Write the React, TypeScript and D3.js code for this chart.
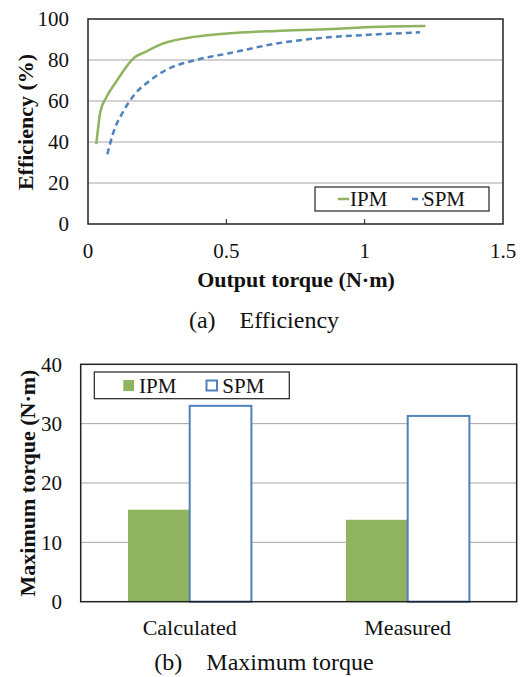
import React from "react";
import * as d3 from "d3";

const ipmTorque = [0.03, 0.045, 0.065, 0.1, 0.17, 0.2, 0.27, 0.39, 0.51, 0.68, 0.88, 1.0, 1.22];
const ipmEff = [39, 55, 61.5, 69, 81.5, 83.5, 88, 91.4, 93, 94.2, 95.1, 96, 96.6];
const spmTorque = [0.07, 0.09, 0.13, 0.17, 0.21, 0.28, 0.39, 0.51, 0.68, 0.88, 1.0, 1.2];
const spmEff = [34, 44, 55.5, 63.5, 68.5, 75, 80, 83.3, 88, 91.2, 92.2, 93.5];
const effTicks = [0, 20, 40, 60, 80, 100];
const torqueTicks = [0, 0.5, 1, 1.5];

const categories = ["Calculated", "Measured"];
const seriesNames = ["IPM", "SPM"];
const ipmMax = [15.5, 13.8];
const spmMax = [33.0, 31.3];
const maxTicks = [0, 10, 20, 30, 40];

const GREEN = "#8fb35e";
const BLUE = "#4f81bd";
const GRID = "#a6a6a6";
const FONT = "Liberation Serif, DejaVu Serif, serif";

export default function App() {
  const ax = d3.scaleLinear().domain([0, 1.5]).range([88, 503]);
  const ay = d3.scaleLinear().domain([0, 100]).range([224, 19]);
  const line = d3
    .line<[number, number]>()
    .x((d) => ax(d[0]))
    .y((d) => ay(d[1]))
    .curve(d3.curveMonotoneX);
  const ipmPts = ipmTorque.map((t, i) => [t, ipmEff[i]] as [number, number]);
  const spmPts = spmTorque.map((t, i) => [t, spmEff[i]] as [number, number]);

  const bx = d3.scaleBand<string>().domain(categories).range([80.7, 516.7]).paddingInner(0.434).paddingOuter(0.217);
  const by = d3.scaleLinear().domain([0, 40]).range([601.7, 364.3]);
  const bw = bx.bandwidth() / 2;

  const tf = { fontFamily: FONT };

  return (
    <svg width={527} height={677} style={{ position: "absolute", left: 0, top: 0, background: "#fff", fontFamily: FONT }}>
      <rect x={0} y={0} width={527} height={677} fill="#fff" />
      {effTicks.filter((t) => t > 0 && t < 100).map((t) => (
        <line key={t} x1={ax(0)} x2={ax(1.5)} y1={ay(t)} y2={ay(t)} stroke={GRID} strokeWidth={1} />
      ))}
      {torqueTicks.filter((t) => t > 0 && t < 1.5).map((t) => (
        <line key={t} x1={ax(t)} x2={ax(t)} y1={ay(0)} y2={ay(0) - 5} stroke="#222" strokeWidth={1} />
      ))}
      <path d={line(ipmPts) || ""} fill="none" stroke={GREEN} strokeWidth={2.5} />
      <path d={line(spmPts) || ""} fill="none" stroke={BLUE} strokeWidth={2.5} strokeDasharray="6,4" />
      <rect x={ax(0)} y={ay(100)} width={ax(1.5) - ax(0)} height={ay(0) - ay(100)} fill="none" stroke="#222" strokeWidth={1.5} />
      {effTicks.map((t) => (
        <text key={t} style={tf} x={69} y={ay(t)} dy="0.35em" textAnchor="end" fontSize={21} fill="#111">{t}</text>
      ))}
      {torqueTicks.map((t) => (
        <text key={t} style={tf} x={ax(t)} y={251} dy="0.35em" textAnchor="middle" fontSize={21} fill="#111">{t}</text>
      ))}
      <text style={tf} x={296} y={279} dy="0.35em" textAnchor="middle" fontSize={22} fontWeight="bold" fill="#111">Output torque (N·m)</text>
      <text style={tf} transform="translate(25,122) rotate(-90)" dy="0.35em" textAnchor="middle" fontSize={22} fontWeight="bold" fill="#111">Efficiency (%)</text>
      <text style={{ ...tf, whiteSpace: "pre" }} x={264} y={320} dy="0.35em" textAnchor="middle" fontSize={24} fill="#111">{"(a)\u2003Efficiency"}</text>
      <rect x={315} y={187} width={174} height={24} fill="#fff" stroke="#222" strokeWidth={1.2} />
      <line x1={338} x2={349} y1={199} y2={199} stroke={GREEN} strokeWidth={2.5} />
      <text style={tf} x={350} y={199} dy="0.35em" fontSize={21} fill="#111">{seriesNames[0]}</text>
      <line x1={412} x2={424} y1={199} y2={199} stroke={BLUE} strokeWidth={2.5} strokeDasharray="6,4" />
      <text style={tf} x={423} y={199} dy="0.35em" fontSize={21} fill="#111">{seriesNames[1]}</text>

      {maxTicks.filter((t) => t > 0 && t < 40).map((t) => (
        <line key={t} x1={80.7} x2={516.7} y1={by(t)} y2={by(t)} stroke={GRID} strokeWidth={1} />
      ))}
      {categories.map((c, i) => (
        <g key={c}>
          <rect x={bx(c)!} y={by(ipmMax[i])} width={bw} height={by(0) - by(ipmMax[i])} fill={GREEN} />
          <rect x={bx(c)! + bw} y={by(spmMax[i])} width={bw} height={by(0) - by(spmMax[i])} fill="#fff" stroke={BLUE} strokeWidth={2} />
        </g>
      ))}
      <rect x={80.7} y={by(40)} width={436} height={by(0) - by(40)} fill="none" stroke="#222" strokeWidth={1.5} />
      {maxTicks.map((t) => (
        <text key={t} style={tf} x={62} y={by(t)} dy="0.35em" textAnchor="end" fontSize={21} fill="#111">{t}</text>
      ))}
      {categories.map((c) => (
        <text key={c} style={tf} x={bx(c)! + bw} y={627} dy="0.35em" textAnchor="middle" fontSize={22} fill="#111">{c}</text>
      ))}
      <text style={tf} transform="translate(27,483) rotate(-90)" dy="0.35em" textAnchor="middle" fontSize={22} fontWeight="bold" fill="#111">Maximum torque (N·m)</text>
      <text style={{ ...tf, whiteSpace: "pre" }} x={264} y={662} dy="0.35em" textAnchor="middle" fontSize={24} fill="#111">{"(b)\u2003Maximum torque"}</text>
      <rect x={94.3} y={372} width={195} height={26.7} fill="#fff" stroke="#222" strokeWidth={1.2} />
      <rect x={123.3} y={380} width={10.7} height={11} fill={GREEN} />
      <text style={tf} x={139} y={385.5} dy="0.35em" fontSize={21} fill="#111">{seriesNames[0]}</text>
      <rect x={206.5} y={380.5} width={10.5} height={10} fill="#fff" stroke={BLUE} strokeWidth={2} />
      <text style={tf} x={222.3} y={385.5} dy="0.35em" fontSize={21} fill="#111">{seriesNames[1]}</text>
    </svg>
  );
}
